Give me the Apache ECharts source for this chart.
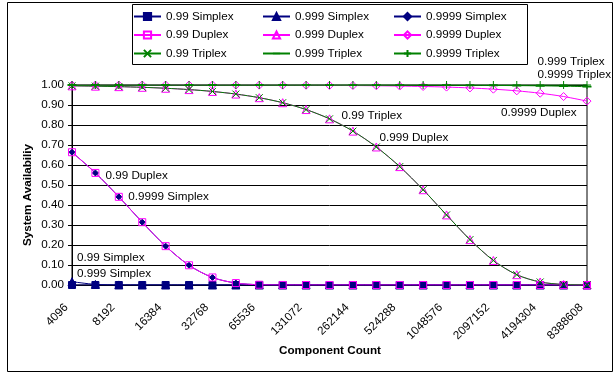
<!DOCTYPE html>
<html>
<head>
<meta charset="utf-8">
<script src="https://cdn.jsdelivr.net/npm/echarts@6/dist/echarts.min.js"></script>
<style>
  html, body { margin: 0; padding: 0; background: #fff; }
  #chart { width: 615px; height: 376px; }
</style>
</head>
<body>
<div id="chart"></div>
<script>
// Component counts (powers of two with half-step points in between)
const categories = ['4096', '5793', '8192', '11585', '16384', '23170', '32768', '46341',
  '65536', '92682', '131072', '185364', '262144', '370728', '524288', '741455',
  '1048576', '1482910', '2097152', '2965821', '4194304', '5931642', '8388608'];

// System availability per configuration
const simplex99 = [0, 0, 0, 0, 0, 0, 0, 0, 0, 0, 0, 0, 0, 0, 0, 0, 0, 0, 0, 0, 0, 0, 0];
const simplex999 = [0.0166, 0.0030, 0.0003, 0, 0, 0, 0, 0, 0, 0, 0, 0, 0, 0, 0, 0, 0, 0, 0, 0, 0, 0, 0];
const simplex9999 = [0.6639, 0.5603, 0.4408, 0.3140, 0.1943, 0.0986, 0.0378, 0.0097, 0.0014, 0.0001,
  0, 0, 0, 0, 0, 0, 0, 0, 0, 0, 0, 0, 0];
const duplex99 = [0.6639, 0.5603, 0.4408, 0.3140, 0.1943, 0.0986, 0.0378, 0.0097, 0.0014, 0.0001,
  0, 0, 0, 0, 0, 0, 0, 0, 0, 0, 0, 0, 0];
const duplex999 = [0.9959, 0.9942, 0.9918, 0.9885, 0.9837, 0.9771, 0.9678, 0.9547, 0.9366, 0.9115,
  0.8772, 0.8308, 0.7694, 0.6902, 0.5920, 0.4764, 0.3504, 0.2270, 0.1228, 0.0515, 0.0151, 0.0027, 0.0002];
const duplex9999 = [1.0000, 0.9999, 0.9999, 0.9999, 0.9998, 0.9998, 0.9997, 0.9995, 0.9993, 0.9991,
  0.9987, 0.9981, 0.9974, 0.9963, 0.9948, 0.9926, 0.9896, 0.9853, 0.9792, 0.9708, 0.9589, 0.9424, 0.9195];
const triplex99 = [0.9959, 0.9942, 0.9918, 0.9885, 0.9837, 0.9771, 0.9678, 0.9547, 0.9366, 0.9115,
  0.8772, 0.8308, 0.7694, 0.6902, 0.5920, 0.4764, 0.3504, 0.2270, 0.1228, 0.0515, 0.0151, 0.0027, 0.0002];
const triplex999 = [1, 1, 1, 1, 1, 1, 1, 1, 0.9999, 0.9999, 0.9999, 0.9998, 0.9997, 0.9996, 0.9995,
  0.9993, 0.9990, 0.9985, 0.9979, 0.9970, 0.9958, 0.9941, 0.9916];
const triplex9999 = [1, 1, 1, 1, 1, 1, 1, 1, 1, 1, 1, 1, 1, 1, 1, 1, 1, 1, 1, 1, 1, 1, 1];

const FONT = "'Liberation Sans', Arial, sans-serif";
const FS = 11.7;
const NAVY = '#000080', MAGENTA = '#FF00FF', GREEN = '#008000';
const CLEAR = 'rgba(0,0,0,0)';

const X_PATH = 'path://M0,0L10,10M10,0L0,10';
const PLUS_PATH = 'path://M5,0L5,10M0,5L10,5';
const DASH_PATH = 'path://M0,0L10,0M0,4L10,4L10,6L0,6ZM0,10L10,10';

// Build a line series; an optional series-name label is attached to one point
function line(name, values, color, symbol, size, fill, tag) {
  const data = values.map((v, i) => {
    if (tag && tag.index === i) {
      return {
        value: v,
        label: {
          show: true, formatter: '{a}', position: tag.position || 'right', distance: 0,
          offset: tag.offset, color: '#000', fontSize: FS, fontFamily: FONT
        }
      };
    }
    return v;
  });
  return {
    name, type: 'line', data, symbol, symbolSize: size, smooth: 0.3,
    showAllSymbol: true, animation: false,
    lineStyle: { color, width: 1 },
    itemStyle: { color: fill, borderColor: color, borderWidth: fill === GREEN && symbol === DASH_PATH ? 0 : 1 },
    emphasis: { disabled: true }
  };
}

const series = [
  line('0.99 Simplex', simplex99, NAVY, 'rect', 7, NAVY, { index: 0, offset: [1, -27] }),
  line('0.999 Simplex', simplex999, NAVY, 'triangle', 8, NAVY, { index: 0, offset: [0.5, -8] }),
  line('0.9999 Simplex', simplex9999, NAVY, 'diamond', 6, NAVY, { index: 2, offset: [6, 0] }),
  line('0.99 Duplex', duplex99, MAGENTA, 'rect', 7, CLEAR, { index: 1, offset: [6, 3] }),
  line('0.999 Duplex', duplex999, MAGENTA, 'triangle', 8, CLEAR, { index: 12, offset: [22, 7] }),
  line('0.9999 Duplex', duplex9999, MAGENTA, 'diamond', 8, CLEAR, { index: 22, position: 'left', offset: [-6, 12] }),
  line('0.99 Triplex', triplex99, GREEN, X_PATH, 7, GREEN, { index: 11, offset: [8, -3] }),
  line('0.999 Triplex', triplex999, GREEN, DASH_PATH, 9, GREEN, { index: 22, offset: [-54, -25] }),
  line('0.9999 Triplex', triplex9999, GREEN, PLUS_PATH, 8, GREEN, { index: 22, offset: [-54, -10] })
];

function legendColumn(left, names) {
  return {
    orient: 'vertical', left, top: 10.5, padding: 0,
    itemWidth: 27, itemHeight: 9, itemGap: 6.5,
    selectedMode: false,
    textStyle: { fontSize: FS, color: '#000', fontFamily: FONT },
    data: names
  };
}

const chart = echarts.init(document.getElementById('chart'), null, { renderer: 'canvas' });
chart.setOption({
  backgroundColor: '#fff',
  animation: false,
  textStyle: { fontFamily: FONT },
  grid: {
    left: 72, right: 28, top: 85, bottom: 91,
    show: true, borderColor: '#000', borderWidth: 1, backgroundColor: '#fff'
  },
  legend: [
    legendColumn(133, ['0.99 Simplex', '0.99 Duplex', '0.99 Triplex']),
    legendColumn(262, ['0.999 Simplex', '0.999 Duplex', '0.999 Triplex']),
    legendColumn(393, ['0.9999 Simplex', '0.9999 Duplex', '0.9999 Triplex'])
  ],
  xAxis: {
    type: 'category', data: categories, boundaryGap: false,
    axisLine: { lineStyle: { color: '#000', width: 1 } },
    axisTick: { show: false },
    splitLine: { show: false },
    axisLabel: {
      interval: 1, rotate: 45, margin: 15, padding: [0, 8, 0, 0],
      fontSize: FS, color: '#000', fontFamily: FONT
    }
  },
  yAxis: {
    type: 'value', min: 0, max: 1, interval: 0.1,
    axisLine: { show: true, lineStyle: { color: '#000', width: 1 } },
    axisTick: { show: true, length: 4, lineStyle: { color: '#000' } },
    splitLine: { show: true, lineStyle: { color: '#000', width: 1 } },
    axisLabel: { formatter: v => v.toFixed(2), margin: 8, fontSize: FS, color: '#000', fontFamily: FONT }
  },
  graphic: [
    { type: 'rect', shape: { x: 7.5, y: 2.5, width: 605, height: 369 },
      style: { fill: null, stroke: '#000', lineWidth: 1 }, z: -1 },
    { type: 'rect', shape: { x: 132.5, y: 4.5, width: 395, height: 60 },
      style: { fill: null, stroke: '#000', lineWidth: 1 } },
    { type: 'text', x: 330, y: 351,
      style: { text: 'Component Count', font: 'bold ' + FS + 'px ' + FONT, fill: '#000',
        align: 'center', verticalAlign: 'middle' } },
    { type: 'text', x: 28, y: 195, rotation: Math.PI / 2,
      style: { text: 'System Availabiliy', font: 'bold ' + FS + 'px ' + FONT, fill: '#000',
        align: 'center', verticalAlign: 'middle' } }
  ],
  series
});
</script>
</body>
</html>
